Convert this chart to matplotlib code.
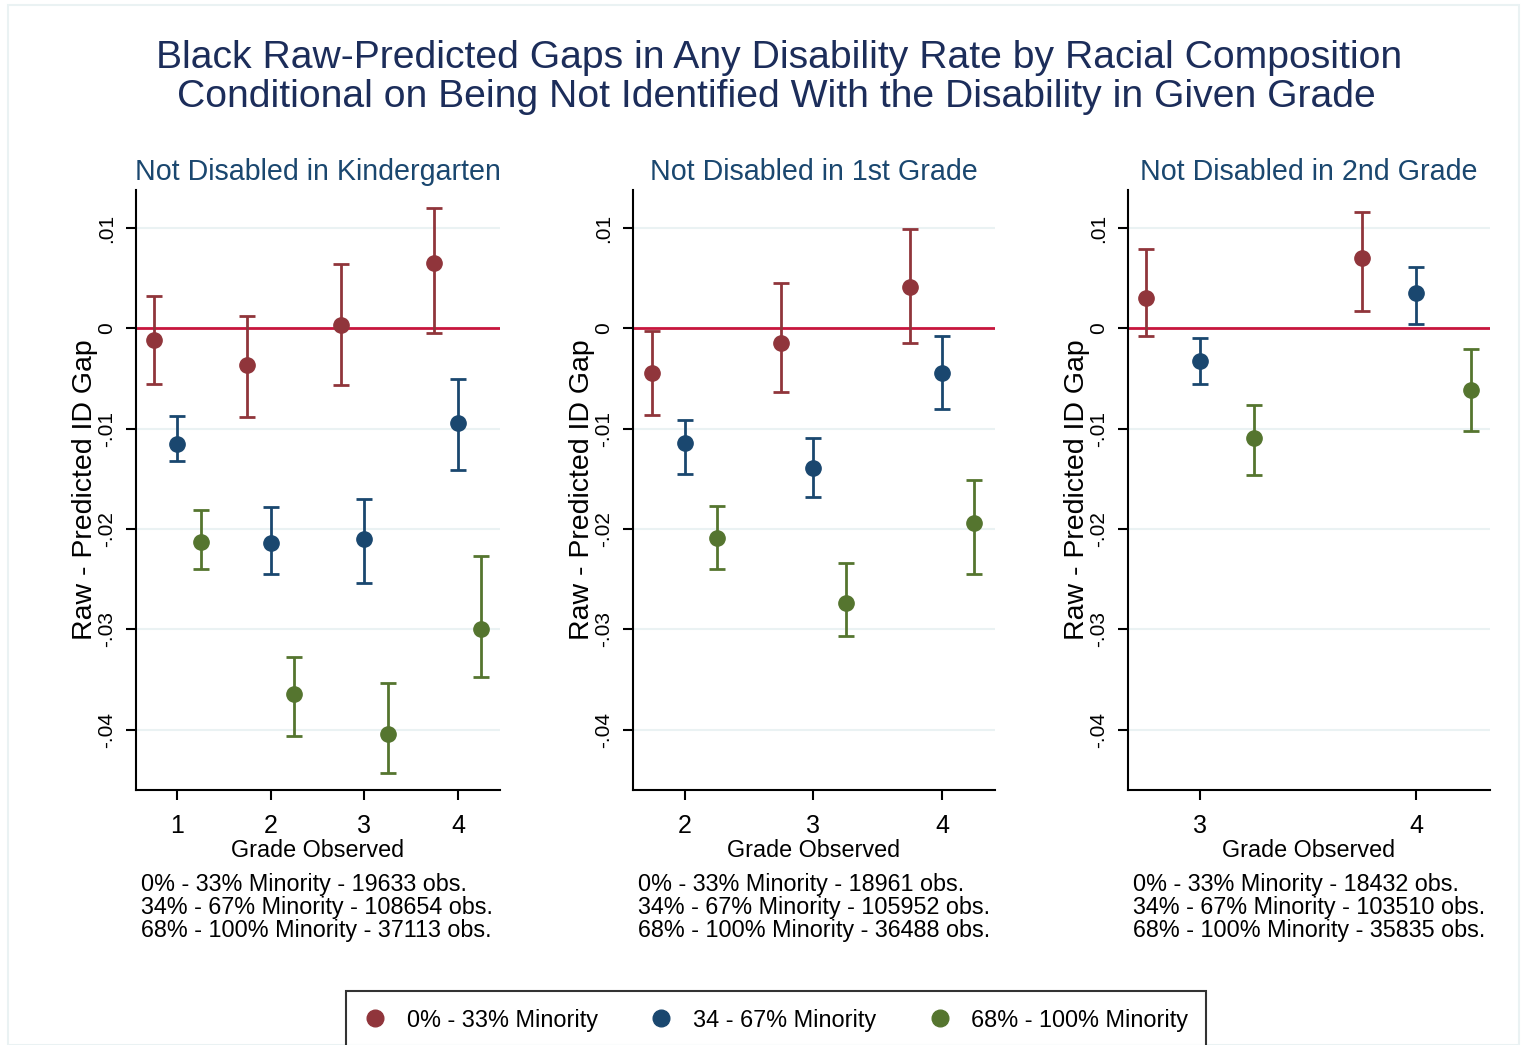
import matplotlib
matplotlib.use("Agg")
import matplotlib.pyplot as plt
from matplotlib.lines import Line2D
from matplotlib.patches import Rectangle
import numpy as np

plt.rcParams['font.family'] = ['Liberation Sans', 'DejaVu Sans']

groups = ["0% - 33% Minority", "34 - 67% Minority", "68% - 100% Minority"]
colors = ["#90353b", "#1a476f", "#55752f"]
offsets = [-0.25, 0.0, 0.25]

panel_titles = ["Not Disabled in Kindergarten", "Not Disabled in 1st Grade", "Not Disabled in 2nd Grade"]

# Panel 1: grades 1-4
p1_grades = [1, 2, 3, 4]
p1_red = [-0.00117, -0.00365, 0.00039, 0.00652]
p1_red_lo = [-0.00551, -0.00885, -0.00560, -0.00043]
p1_red_hi = [0.00326, 0.00128, 0.00640, 0.01200]
p1_blue = [-0.01153, -0.02136, -0.02097, -0.00944]
p1_blue_lo = [-0.01320, -0.02450, -0.02536, -0.01414]
p1_blue_hi = [-0.00870, -0.01779, -0.01701, -0.00505]
p1_green = [-0.02128, -0.03639, -0.04039, -0.02994]
p1_green_lo = [-0.02400, -0.04062, -0.04427, -0.03476]
p1_green_hi = [-0.01806, -0.03278, -0.03534, -0.02268]

# Panel 2: grades 2-4
p2_grades = [2, 3, 4]
p2_red = [-0.00439, -0.00148, 0.00416]
p2_red_lo = [-0.00862, -0.00629, -0.00144]
p2_red_hi = [-0.00023, 0.00458, 0.00990]
p2_blue = [-0.01138, -0.01390, -0.00439]
p2_blue_lo = [-0.01452, -0.01678, -0.00804]
p2_blue_hi = [-0.00913, -0.01095, -0.00078]
p2_green = [-0.02089, -0.02738, -0.01934]
p2_green_lo = [-0.02400, -0.03068, -0.02447]
p2_green_hi = [-0.01767, -0.02342, -0.01515]

# Panel 3: grades 3-4
p3_grades = [3, 4]
p3_red = [0.00303, 0.00707]
p3_red_lo = [-0.00078, 0.00171]
p3_red_hi = [0.00796, 0.01157]
p3_blue = [-0.00326, 0.00357]
p3_blue_lo = [-0.00551, 0.00043]
p3_blue_hi = [-0.00097, 0.00610]
p3_green = [-0.01091, -0.00614]
p3_green_lo = [-0.01460, -0.01017]
p3_green_hi = [-0.00761, -0.00206]

obs_notes = [
    ["0% - 33% Minority - 19633 obs.", "34% - 67% Minority - 108654 obs.", "68% - 100% Minority - 37113 obs."],
    ["0% - 33% Minority - 18961 obs.", "34% - 67% Minority - 105952 obs.", "68% - 100% Minority - 36488 obs."],
    ["0% - 33% Minority - 18432 obs.", "34% - 67% Minority - 103510 obs.", "68% - 100% Minority - 35835 obs."],
]

yticks = [0.01, 0.0, -0.01, -0.02, -0.03, -0.04]
ytick_labels = [".01", "0", "-.01", "-.02", "-.03", "-.04"]

panels = [
    (p1_grades, [(p1_red, p1_red_lo, p1_red_hi), (p1_blue, p1_blue_lo, p1_blue_hi), (p1_green, p1_green_lo, p1_green_hi)], (0.56, 4.45)),
    (p2_grades, [(p2_red, p2_red_lo, p2_red_hi), (p2_blue, p2_blue_lo, p2_blue_hi), (p2_green, p2_green_lo, p2_green_hi)], (1.60, 4.41)),
    (p3_grades, [(p3_red, p3_red_lo, p3_red_hi), (p3_blue, p3_blue_lo, p3_blue_hi), (p3_green, p3_green_lo, p3_green_hi)], (2.666, 4.34)),
]

W, H = 1524, 1045
fig = plt.figure(figsize=(W / 100, H / 100), dpi=100)
fig.patch.set_facecolor("white")

# light outer frame
fig.patches.append(Rectangle((8 / W, 0), (1519 - 8) / W, 1 - 5 / H, transform=fig.transFigure,
                             fill=False, edgecolor="#eaf2f3", lw=1.5))

title_color = "#1c2d5a"
fig.text(779 / W, 1 - 58 / H, "Black Raw-Predicted Gaps in Any Disability Rate by Racial Composition",
         ha="center", va="center", fontsize=28.2, color=title_color)
fig.text(776 / W, 1 - 97 / H, "Conditional on Being Not Identified With the Disability in Given Grade",
         ha="center", va="center", fontsize=28.2, color=title_color)

lefts = [136, 633, 1128]
right_w = [364, 362, 362]
top_px, bot_px = 190, 790

for i, (grades, series, xl) in enumerate(panels):
    ax = fig.add_axes([lefts[i] / W, 1 - bot_px / H, right_w[i] / W, (bot_px - top_px) / H])
    ax.set_xlim(*xl)
    ax.set_ylim(-0.0460, 0.0138)
    for y in yticks:
        ax.axhline(y, color="#eaf2f3", lw=1.5, zorder=0)
    ax.axhline(0, color="#c8163d", lw=2, zorder=1)
    g = np.array(grades, dtype=float)
    for (vals, lo, hi), c, off in zip(series, colors, offsets):
        v = np.array(vals)
        err = [v - np.array(lo), np.array(hi) - v]
        ax.errorbar(g + off, v, yerr=err, fmt="o", color=c, ecolor=c, elinewidth=2,
                    capsize=6, capthick=2, markersize=11, zorder=3)
    for s in ["top", "right"]:
        ax.spines[s].set_visible(False)
    for s in ["left", "bottom"]:
        ax.spines[s].set_linewidth(1.5)
        ax.spines[s].set_color("black")
    ax.set_xticks(grades)
    ax.set_xticklabels([str(x) for x in grades], fontsize=18)
    ax.set_yticks(yticks)
    ax.set_yticklabels(ytick_labels, fontsize=15, rotation=90, va="center")
    ax.tick_params(axis="x", length=7, width=1.5, pad=10)
    ax.tick_params(axis="y", length=7.5, width=1.5, pad=7)
    ax.set_xlabel("Grade Observed", fontsize=16.8, labelpad=1)
    ax.set_ylabel("Raw - Predicted ID Gap", fontsize=20.5, labelpad=-1)
    ax.set_title(panel_titles[i], fontsize=20.6, color="#1a476f", pad=7)
    for k, line in enumerate(obs_notes[i]):
        fig.text((lefts[i] + 5) / W, 1 - (884 + 23.5 * k) / H, line, ha="left", va="center", fontsize=16.8)

handles = [Line2D([], [], marker="o", linestyle="none", color=c, markersize=12) for c in colors]
leg = fig.legend(handles, groups, loc="upper center", bbox_to_anchor=(776 / W, 1 - 991 / H), ncol=3,
                 fontsize=16.9, frameon=True, fancybox=False, edgecolor="black", borderpad=0.75,
                 borderaxespad=0, columnspacing=2.2, handletextpad=0.85, handlelength=1.0)
leg.get_frame().set_linewidth(1.5)

fig.savefig("out.png", dpi=100, facecolor="white")
